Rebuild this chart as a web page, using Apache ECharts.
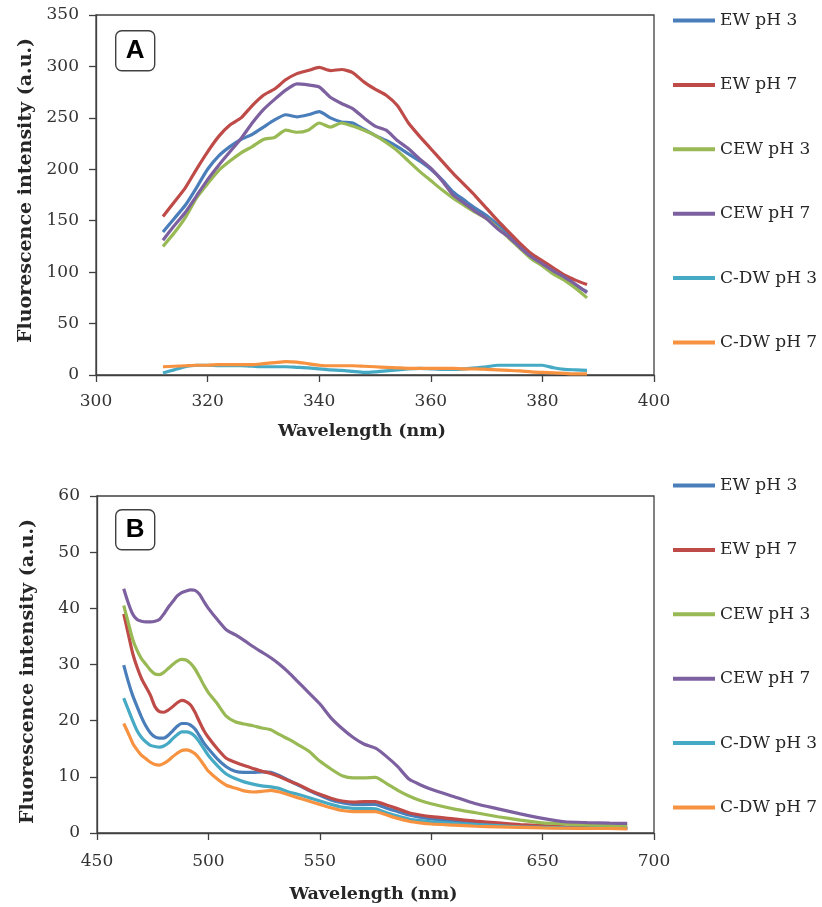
<!DOCTYPE html>
<html>
<head>
<meta charset="utf-8">
<script src="https://cdn.jsdelivr.net/npm/echarts@6/dist/echarts.min.js"></script>
<style>
html,body{margin:0;padding:0;background:#fff;}
#chart{width:822px;height:907px;}
</style>
</head>
<body>
<div id="chart"></div>
<script>
// ---------- Data ----------
const seriesNames = ['EW pH 3', 'EW pH 7', 'CEW pH 3', 'CEW pH 7', 'C-DW pH 3', 'C-DW pH 7'];
const seriesColors = ['#4A7EBB', '#BE4B48', '#98B954', '#7D60A0', '#46AAC5', '#F69240'];

// Panel A wavelengths (nm)
const waveA = [312,314,316,318,320,322,324,326,328,330,332,334,336,338,340,342,344,346,348,350,
               352,354,356,358,360,362,364,366,368,370,372,374,376,378,380,382,384,386,388];
const ewPH3_A  = [139,152,165,182,200,213,222,229,234,241,248,253,251,253,256,250,246,245,239,233,
                  228,222,215,208,200,190,178,170,162,155,146,137,126,117,108,101,94,87,81];
const ewPH7_A  = [154,168,182,200,217,232,243,250,262,272,278,287,293,296,299,296,297,294,285,278,
                  272,262,245,232,220,208,196,185,174,162,150,139,128,118,111,104,97,92,88];
const cewPH3_A = [125,138,153,172,186,199,208,216,222,229,231,238,236,238,245,241,245,242,238,233,
                  226,218,208,198,189,180,172,165,158,152,143,133,123,113,106,98,92,84,75];
const cewPH7_A = [131,145,158,174,190,204,217,230,245,258,268,277,283,282,280,270,264,259,250,242,
                  238,228,220,210,201,189,175,167,159,152,142,134,124,115,108,101,95,88,80];
const cdwPH3_A = [2,5,8,9.5,9.5,9,9,9,8.5,8,8,8,7.5,7,6,5,4.5,3.5,2.5,3,
                  4,5,6,6.5,6,5.5,5.5,6,7,8,9.5,9.5,9.5,9.5,9.5,7,5.5,5,4.5];
const cdwPH7_A = [8,8.5,9,9.5,9.5,10,10,10,10,11,12,13,12.5,11,9.5,9,9,9,8.5,8,
                  7.5,7,6.5,6.5,6.5,6.5,6.5,6,6,5.5,5,4.5,4,3,2.5,2,1.5,1,1];

// Panel B wavelengths (nm)
const waveB = [462,464,466,468,470,472,474,476,478,480,482,484,486,488,490,492,494,496,498,500,
               504,508,512,516,520,524,528,532,536,540,545,550,555,560,565,570,575,580,585,590,
               595,600,610,620,630,640,650,660,670,680,688];
const ewPH3_B  = [29.9,27,24.5,22.5,20.6,19,17.8,17.1,16.9,16.9,17.4,18.2,19,19.5,19.5,19.2,18.5,17.3,16,15,
                  13.2,11.8,11,10.8,10.8,10.9,10.8,10.2,9.4,8.6,7.6,6.7,5.9,5.4,5.1,5.1,5.1,4.4,3.8,3.2,
                  2.8,2.5,2.1,1.8,1.5,1.3,1.15,1.0,0.95,0.9,0.85];
const ewPH7_B  = [39,35.5,32,29.5,27.5,26,24.5,22.5,21.6,21.5,21.9,22.5,23.2,23.6,23.4,22.8,21.5,19.8,18.2,17,
                  15,13.3,12.6,12,11.5,11,10.6,10,9.3,8.7,7.7,6.9,6.2,5.7,5.5,5.6,5.6,5.0,4.3,3.6,
                  3.2,2.9,2.5,2.1,1.8,1.5,1.3,1.1,1.0,0.95,0.9];
const cewPH3_B = [40.5,37.5,34.5,32.5,31,30,29,28.3,28.2,28.6,29.3,30,30.6,30.9,30.8,30.2,29.2,27.8,26.3,25,
                  23,20.8,19.8,19.4,19.1,18.7,18.4,17.5,16.7,15.8,14.6,12.8,11.4,10.2,9.8,9.8,9.9,8.8,7.6,6.6,
                  5.8,5.2,4.3,3.6,2.9,2.3,1.8,1.6,1.4,1.3,1.25];
const cewPH7_B = [43.5,41,39,38,37.7,37.6,37.6,37.7,38,39,40.2,41.2,42.2,42.8,43.1,43.3,43.2,42.5,41.2,40,
                  38,36.2,35.3,34.3,33.2,32.2,31.2,30,28.6,27,25,23,20.5,18.6,17,15.8,15.1,13.6,11.8,9.6,
                  8.6,7.8,6.5,5.2,4.3,3.4,2.6,2.0,1.85,1.75,1.7];
const cdwPH3_B = [24,22,20,18.2,17,16.2,15.6,15.4,15.3,15.5,16,16.8,17.5,18,18,17.8,17.2,16.2,15,13.8,
                  12,10.5,9.7,9.1,8.7,8.4,8.2,7.9,7.3,6.9,6.3,5.7,5.1,4.6,4.4,4.4,4.3,3.6,3.0,2.5,
                  2.2,2.0,1.7,1.5,1.3,1.1,1.0,0.9,0.85,0.8,0.8];
const cdwPH7_B = [19.5,17.8,16,14.8,13.8,13.2,12.6,12.2,12.1,12.4,12.9,13.6,14.2,14.7,14.8,14.6,14.1,13.2,12.1,11,
                  9.6,8.5,8,7.5,7.3,7.4,7.6,7.3,6.8,6.3,5.7,5.1,4.5,4.0,3.8,3.8,3.8,3.2,2.6,2.1,
                  1.8,1.6,1.4,1.2,1.1,1.0,0.9,0.85,0.8,0.8,0.75];

const panelA = [ewPH3_A, ewPH7_A, cewPH3_A, cewPH7_A, cdwPH3_A, cdwPH7_A];
const panelB = [ewPH3_B, ewPH7_B, cewPH3_B, cewPH7_B, cdwPH3_B, cdwPH7_B];

// ---------- Chart ----------
const axisColor = '#404040';
const serif = '"DejaVu Serif", "Liberation Serif", serif';
const sans = '"Liberation Sans", "DejaVu Sans", sans-serif';

function pairs(xs, ys) { return xs.map((x, i) => [x, ys[i]]); }

function xAxisCfg(gridIndex, min, max, interval, nameGap, labelMargin, namePadding) {
  return {
    type: 'value', gridIndex, min, max, interval,
    name: 'Wavelength (nm)', nameLocation: 'middle', nameGap: nameGap,
    nameTextStyle: { fontFamily: serif, fontWeight: 'bold', fontSize: 17.5, color: '#262626', padding: namePadding },
    axisLine: { show: true, onZero: false, lineStyle: { color: axisColor, width: 1.3 } },
    axisTick: { show: true, inside: false, length: 7, lineStyle: { color: axisColor, width: 1.3 } },
    axisLabel: { fontFamily: serif, fontSize: 17, color: '#333', margin: labelMargin },
    splitLine: { show: false }
  };
}
function yAxisCfg(gridIndex, min, max, interval, namePadding) {
  return {
    type: 'value', gridIndex, min, max, interval,
    name: 'Fluorescence intensity (a.u.)', nameLocation: 'middle', nameGap: 59,
    nameTextStyle: { fontFamily: serif, fontWeight: 'bold', fontSize: 19, color: '#262626', padding: namePadding },
    axisLine: { show: true, lineStyle: { color: axisColor, width: 1.3 } },
    axisTick: { show: true, inside: false, length: 7, lineStyle: { color: axisColor, width: 1.3 } },
    axisLabel: { fontFamily: serif, fontSize: 17, color: '#333', margin: 17 },
    splitLine: { show: false }
  };
}
function legendCfg(top) {
  return {
    orient: 'vertical', left: 673, top: top, padding: 0,
    itemWidth: 42, itemHeight: 14, itemGap: 47.4,
    icon: 'path://M0,0 L42,0 L42,4 L0,4 Z',
    textStyle: { fontFamily: serif, fontSize: 17, color: '#262626', lineHeight: 17 },
    data: seriesNames.slice(),
    selectedMode: false
  };
}

const series = [];
[panelA, panelB].forEach((panel, gi) => {
  const xs = gi === 0 ? waveA : waveB;
  panel.forEach((ys, si) => {
    series.push({
      name: seriesNames[si], type: 'line', xAxisIndex: gi, yAxisIndex: gi,
      data: pairs(xs, ys), showSymbol: false, symbol: 'none', smooth: 0.2,
      lineStyle: { color: seriesColors[si], width: 3.2 },
      itemStyle: { color: seriesColors[si] },
      emphasis: { disabled: true }, animation: false
    });
  });
});

function badge(letter, top) {
  return {
    type: 'group', left: 115, top: top,
    children: [
      { type: 'rect', shape: { x: 0, y: 0, width: 39, height: 40, r: 6 },
        style: { fill: '#fff', stroke: '#404040', lineWidth: 1.4 } },
      { type: 'text', x: 19.5, y: 20,
        style: { text: letter, fontFamily: sans, fontWeight: 'bold', fontSize: 26, fill: '#000',
                 align: 'center', verticalAlign: 'middle' } }
    ]
  };
}

const chart = echarts.init(document.getElementById('chart'), null, { renderer: 'canvas' });
chart.setOption({
  backgroundColor: '#fff',
  animation: false,
  grid: [
    { left: 96, top: 15, width: 558, height: 360, show: true, borderColor: axisColor, borderWidth: 1.3, backgroundColor: 'transparent' },
    { left: 97, top: 496, width: 557, height: 337, show: true, borderColor: axisColor, borderWidth: 1.3, backgroundColor: 'transparent' }
  ],
  xAxis: [xAxisCfg(0, 300, 400, 20, 47, 18, [0, 26, 0, 0]), xAxisCfg(1, 450, 700, 50, 52, 20, [0, 4, 0, 0])],
  yAxis: [yAxisCfg(0, 0, 350, 50, [0, 0, 0, 9]), yAxisCfg(1, 0, 60, 10, [0, 14, 0, 0])],
  legend: [legendCfg(12), legendCfg(477)],
  series: series,
  graphic: [badge('A', 30), badge('B', 509)]
});
</script>
</body>
</html>
